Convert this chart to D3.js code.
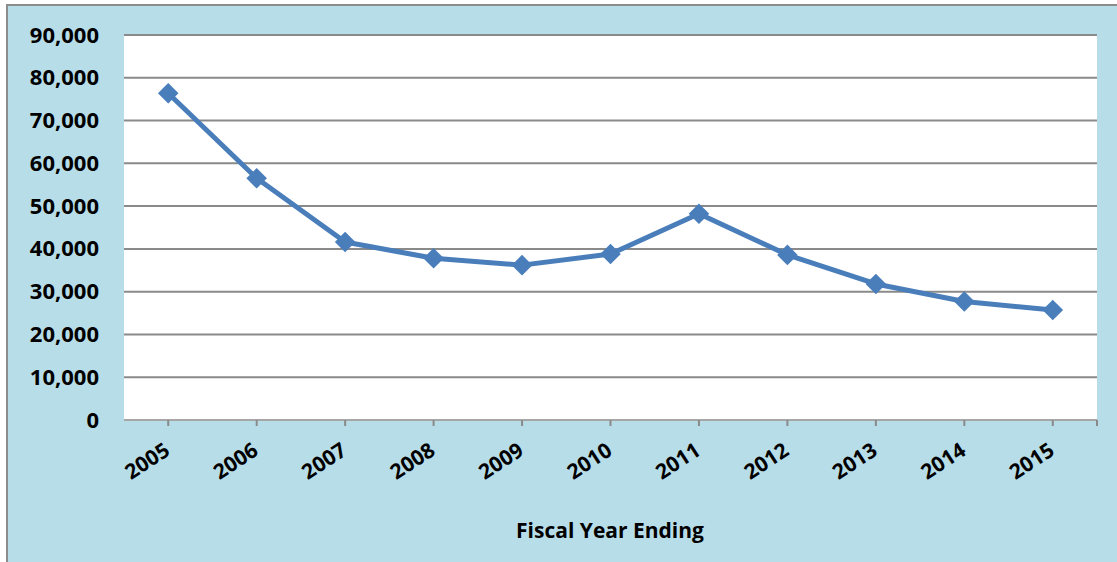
<!DOCTYPE html>
<html>
<head>
    <script src="https://d3js.org/d3.v7.min.js"></script>
    <style>
        body { margin: 0; background: #fff; }
        text { font-family: "Open Sans", sans-serif; font-weight: bold; fill: #000; }
    </style>
</head>
<body>
    <div id="chart"></div>
    <script>
        const years = ["2005", "2006", "2007", "2008", "2009", "2010", "2011", "2012", "2013", "2014", "2015"];
        const counts = [76400, 56500, 41600, 37800, 36200, 38800, 48200, 38600, 31800, 27700, 25700];
        const yTicks = [0, 10000, 20000, 30000, 40000, 50000, 60000, 70000, 80000, 90000];

        const width = 1117, height = 562;
        const plot = { left: 124, right: 1097, top: 35, bottom: 420 };

        const svg = d3.select("#chart").append("svg")
            .attr("width", width)
            .attr("height", height);

        // chart area box (runs off the right and bottom edges)
        svg.append("rect")
            .attr("x", 7).attr("y", 5)
            .attr("width", width + 20).attr("height", height + 20)
            .attr("fill", "#b7dde8")
            .attr("stroke", "#8c8c8c")
            .attr("stroke-width", 2);

        svg.append("rect")
            .attr("x", plot.left).attr("y", plot.top)
            .attr("width", plot.right - plot.left).attr("height", plot.bottom - plot.top)
            .attr("fill", "#fff");

        const x = d3.scaleBand().domain(years).range([plot.left, plot.right]);
        const y = d3.scaleLinear().domain([0, 90000]).range([plot.bottom, plot.top]);

        // gridlines
        svg.append("g")
            .selectAll("line")
            .data(yTicks)
            .join("line")
            .attr("x1", plot.left).attr("x2", plot.right)
            .attr("y1", d => y(d)).attr("y2", d => y(d))
            .attr("stroke", "#8a8a8a")
            .attr("stroke-width", 2);

        // y labels
        svg.append("g")
            .selectAll("text")
            .data(yTicks)
            .join("text")
            .attr("x", 99)
            .attr("y", d => y(d) + 7.5)
            .attr("text-anchor", "end")
            .style("font-size", "22px")
            .text(d => d3.format(",")(d));

        // x axis line and ticks
        svg.append("line")
            .attr("x1", plot.left).attr("x2", plot.right)
            .attr("y1", plot.bottom).attr("y2", plot.bottom)
            .attr("stroke", "#a6a6a6").attr("stroke-width", 2);

        const tickXs = years.map(d => x(d) + x.bandwidth() / 2).concat([plot.right]);
        svg.append("g")
            .selectAll("line")
            .data(tickXs)
            .join("line")
            .attr("x1", d => d).attr("x2", d => d)
            .attr("y1", plot.bottom).attr("y2", plot.bottom + 6)
            .attr("stroke", "#8a8a8a").attr("stroke-width", 2);

        svg.append("g")
            .selectAll("text")
            .data(years)
            .join("text")
            .attr("transform", d => `translate(${x(d) + x.bandwidth() / 2 + 3},${plot.bottom + 34}) rotate(-33)`)
            .attr("text-anchor", "end")
            .style("font-size", "21px")
            .text(d => d);

        svg.append("text")
            .attr("x", 610).attr("y", 538)
            .attr("text-anchor", "middle")
            .style("font-size", "21px")
            .text("Fiscal Year Ending");

        // series
        const pts = years.map((yr, i) => [x(yr) + x.bandwidth() / 2, y(counts[i])]);
        svg.append("path")
            .attr("d", d3.line()(pts))
            .attr("fill", "none")
            .attr("stroke", "#4a7ebb")
            .attr("stroke-width", 5)
            .attr("stroke-linejoin", "round");

        svg.append("g")
            .selectAll("path")
            .data(pts)
            .join("path")
            .attr("transform", d => `translate(${d[0]},${d[1]})`)
            .attr("d", d3.symbol(d3.symbolDiamond2, 270))
            .attr("fill", "#4a7ebb");
    </script>
</body>
</html>
